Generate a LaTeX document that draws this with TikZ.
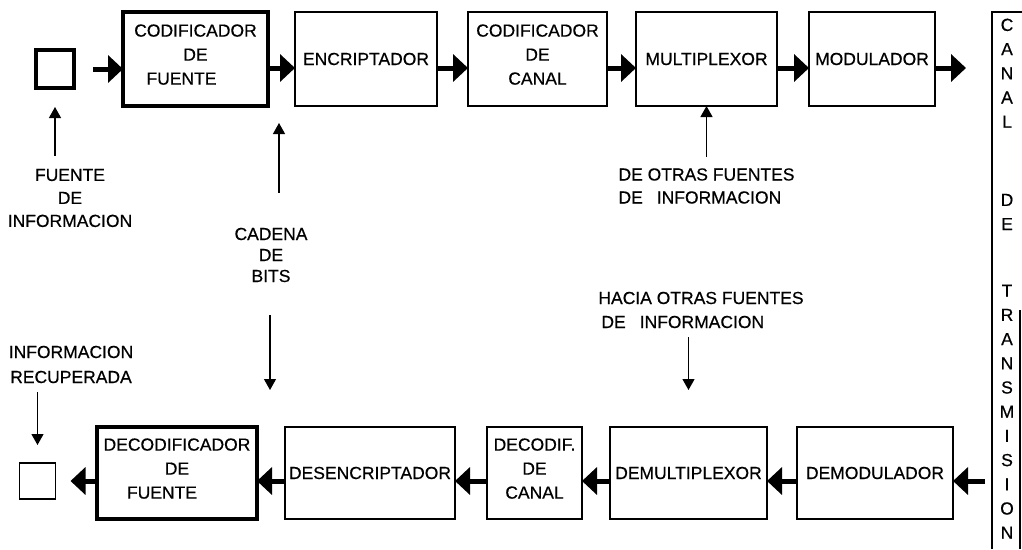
\documentclass[tikz,border=0pt]{standalone}
\usepackage{fontspec}
\setmainfont{Liberation Sans}[FakeBold=0.5]
\usetikzlibrary{arrows.meta,positioning}

\tikzset{
  bloque/.style={draw,line width=1.3pt,outer sep=0pt,inner sep=0pt,align=center,
    minimum height=94pt,font=\fontsize{17.5}{24}\selectfont},
  bloquegrueso/.style={bloque,line width=4pt},
  tresrenglones/.style={text depth=9pt},
  flecha/.style={line width=5pt,-{Triangle[length=15pt,width=27pt]}},
  senal/.style={line width=1.2pt,-{Triangle[length=11pt,width=12pt]}},
  nota/.style={inner sep=0pt,align=center,font=\fontsize{17.5}{23}\selectfont},
}

\begin{document}
\begin{tikzpicture}[x=1pt,y=-1pt]
\useasboundingbox (0,0) rectangle (1022,549);

% transmisor
\node[draw,line width=4pt,minimum size=38pt,outer sep=0pt] (fuente) at (55,69) {};
\node[bloquegrueso,tresrenglones,minimum width=145pt] (codfuente) at (195.5,59) {CODIFICADOR\\DE\hspace*{12pt}\\FUENTE\hspace*{28pt}};
\node[bloque,minimum width=142pt] (encrip) at (366,59) {ENCRIPTADOR};
\node[bloque,tresrenglones,minimum width=139pt] (codcanal) at (537.5,59) {CODIFICADOR\\DE\\CANAL};
\node[bloque,minimum width=141pt] (multi) at (706.5,59) {MULTIPLEXOR};
\node[bloque,minimum width=126pt] (modul) at (872,59) {MODULADOR};

\draw[flecha] ([xshift=19pt]fuente.east) -- (fuente.east -| codfuente.west);
\draw[flecha] ([yshift=-9pt]codfuente.east) -- ([yshift=-9pt]encrip.west);
\draw[flecha] ([yshift=-9pt]encrip.east) -- ([yshift=-9pt]codcanal.west);
\draw[flecha] ([yshift=-9pt]codcanal.east) -- ([yshift=-9pt]multi.west);
\draw[flecha] ([yshift=-9pt]multi.east) -- ([yshift=-9pt]modul.west);
\draw[flecha] ([yshift=-9pt]modul.east) -- ([xshift=31pt,yshift=-9pt]modul.east);

% canal
\draw[line width=1.3pt] (992,549) -- (992,12) -- (1022,12);
\draw[line width=1.3pt] (1020,310) -- (1020,549);
\node[nota,anchor=north,font=\fontsize{17.5}{24.2}\selectfont] (canal) at (1007,18.5)
  {C\\A\\N\\A\\L\\[54pt]D\\E\\[42.4pt]T\\R\\A\\N\\S\\M\\I\\S\\I\\O\\N};

% receptor
\node[draw,line width=1.3pt,minimum size=36pt,outer sep=0pt] (recibido) at (37.5,481) {};
\node[bloquegrueso,tresrenglones,minimum width=160pt,minimum height=92pt] (decfuente) at (177,473) {DECODIFICADOR\\DE\hspace*{30pt}\\FUENTE\hspace*{30pt}};
\node[bloque,minimum width=170pt,minimum height=92pt] (desenc) at (370,473) {DESENCRIPTADOR};
\node[bloque,tresrenglones,minimum width=95pt,minimum height=92pt] (deccanal) at (534.5,473) {DECODIF.\\DE\\CANAL};
\node[bloque,minimum width=157pt,minimum height=92pt] (demulti) at (688.5,473) {DEMULTIPLEXOR};
\node[bloque,minimum width=156pt,minimum height=92pt] (demod) at (875,473) {DEMODULADOR};

\draw[flecha] ([xshift=32pt,yshift=-8pt]demod.east) -- ([yshift=-8pt]demod.east);
\draw[flecha] ([yshift=-8pt]demod.west) -- ([yshift=-8pt]demulti.east);
\draw[flecha] ([yshift=-8pt]demulti.west) -- ([yshift=-8pt]deccanal.east);
\draw[flecha] ([yshift=-8pt]deccanal.west) -- ([yshift=-8pt]desenc.east);
\draw[flecha] ([yshift=-8pt]desenc.west) -- ([yshift=-8pt]decfuente.east);
\draw[flecha] ([yshift=-8pt]decfuente.west) -- ([xshift=15pt]recibido.east);

% rotulos
\node[nota] (fuenteinfo) at (70,198) {FUENTE\\DE\\INFORMACION};
\draw[senal] ([xshift=-15pt,yshift=13pt]fuenteinfo.north) -- ([yshift=-19pt]fuente.south);

\node[nota,font=\fontsize{17.5}{21}\selectfont] (bits) at (271,255) {CADENA\\DE\\BITS};
\draw[senal] ([xshift=8pt,yshift=35pt]bits.north) -- ([xshift=11pt,yshift=-17pt]codfuente.south east);
\draw[senal] ([xshift=-1pt,yshift=-33pt]bits.south) -- ([xshift=13pt,yshift=37pt]decfuente.north east);

\node[nota,align=left] (otras) at (706.5,186) {DE OTRAS FUENTES\\DE\hspace{0.8em}INFORMACION};
\draw[senal] ([yshift=11pt]otras.north) -- (multi.south);

\node[nota,align=left,font=\fontsize{17.5}{24}\selectfont] (hacia) at (701,310) {HACIA OTRAS FUENTES\\\hspace*{3pt}DE\hspace{0.8em}INFORMACION};
\draw[senal] ([xshift=-12.5pt,yshift=-8.6pt]hacia.south) -- ([yshift=37pt]demulti.north);

\node[nota,font=\fontsize{17.5}{25}\selectfont] (recup) at (71,364.5) {INFORMACION\\RECUPERADA};
\draw[senal] ([xshift=-33.5pt,yshift=-8.6pt]recup.south) -- ([yshift=18pt]recibido.north);
\end{tikzpicture}
\end{document}
